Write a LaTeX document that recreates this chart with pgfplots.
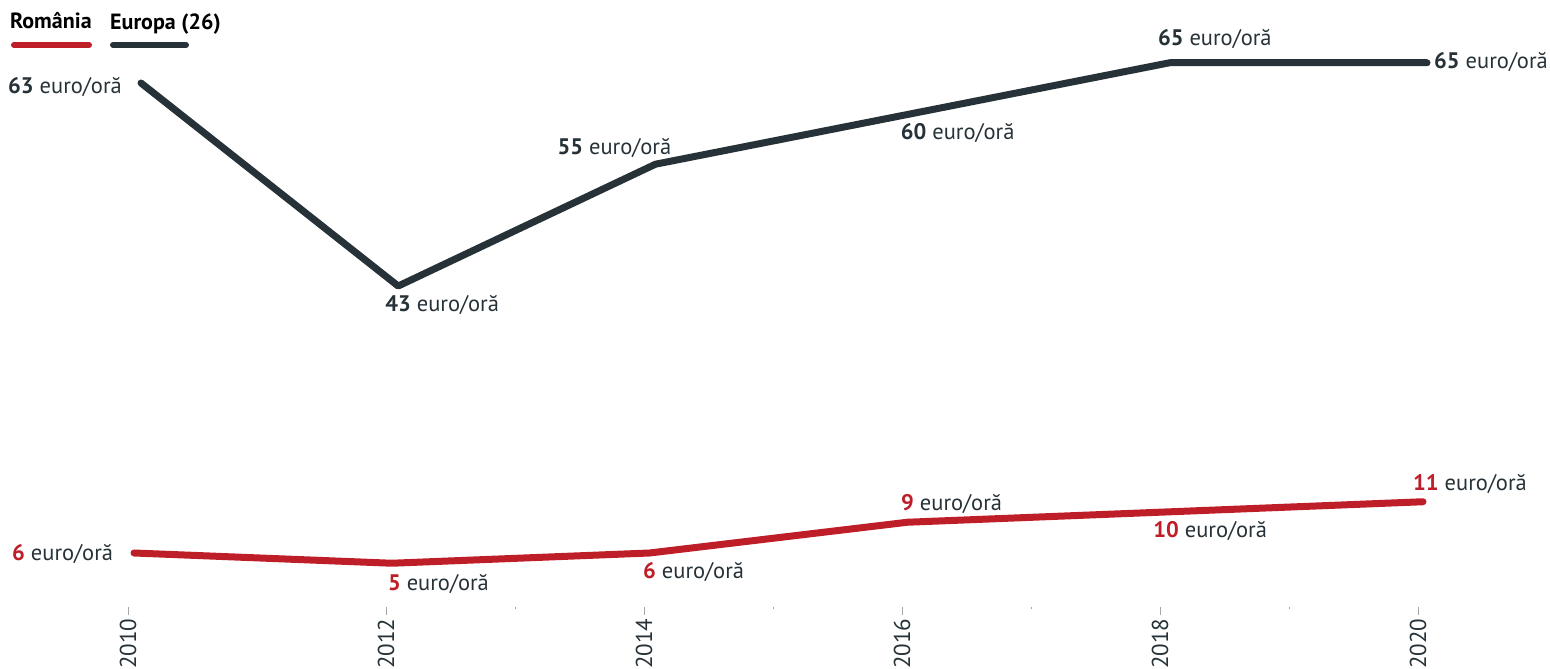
\documentclass[border=0pt]{standalone}
\usepackage{fontspec}
\setmainfont{PT Sans}
\usepackage{pgfplots}
\pgfplotsset{compat=1.18}
\definecolor{rored}{RGB}{190,30,40}
\definecolor{eudark}{RGB}{38,50,56}
\newcommand{\lbl}[2]{\textcolor{#1}{\textbf{#2}} euro/oră}
\tikzset{vl/.style={anchor=base west,inner sep=0pt,font=\fontsize{22.5}{22.5}\selectfont,text=eudark}}
\begin{document}
\begin{tikzpicture}
\pgfplotsset{
  base/.style={at={(0pt,0pt)},anchor=south west,scale only axis,width=1550pt,height=669pt,
    axis line style={draw=none},xtick=\empty,ytick=\empty,clip=false}
}
% ticks
\begin{axis}[scale only axis, at={(0pt,62pt)}, anchor=south west, width=1550pt, height=20pt,
  xmin=2009.0078, xmax=2021.0233, ymin=0, ymax=1, ytick=\empty,
  xtick={2010,2012,2014,2016,2018,2020}, minor xtick={2013,2015,2017,2019},
  axis line style={draw=none}, tick align=outside, xtick pos=lower, xticklabel pos=lower,
  major tick length=8pt, minor tick length=2pt,
  every tick/.style={black!35, line width=0.8pt},
  xticklabel style={rotate=90, anchor=east, font=\fontsize{23}{23}\selectfont, text=eudark},
  /pgf/number format/1000 sep={}, /pgf/number format/assume math mode=true]
\addplot[draw=none] coordinates {(2010,0)};
\end{axis}
% Romania
\begin{axis}[base, xmin=2008.9604, xmax=2020.9853, ymin=-5.317, ymax=59.95]
\addplot[rored, line width=7pt, line cap=round, line join=round] coordinates {(2010,6)(2012,5)(2014,6)(2016,9)(2018,10)(2020,11)};
\node[vl] at (axis cs:2010,6) [xshift=-122pt, yshift=-8pt] {\lbl{rored}{6}};
\node[vl] at (axis cs:2012,5) [xshift=-4pt, yshift=-27.5pt] {\lbl{rored}{5}};
\node[vl] at (axis cs:2014,6) [xshift=-6.6pt, yshift=-26pt] {\lbl{rored}{6}};
\node[vl] at (axis cs:2016,9) [xshift=-6.4pt, yshift=12pt] {\lbl{rored}{9}};
\node[vl] at (axis cs:2018,10) [xshift=-12pt, yshift=-26pt] {\lbl{rored}{10}};
\node[vl] at (axis cs:2020,11) [xshift=-10pt, yshift=11pt] {\lbl{rored}{11}};
\end{axis}
% Europa
\begin{axis}[base, xmin=2008.9036, xmax=2020.9565, ymin=5.271, ymax=71.18]
\addplot[eudark, line width=7pt, line cap=round, line join=round] coordinates {(2010,63)(2012,43)(2014,55)(2016,60)(2018,65)(2020,65)};
\node[vl] at (axis cs:2010,63) [xshift=-133pt, yshift=-10pt] {\lbl{eudark}{63}};
\node[vl] at (axis cs:2012,43) [xshift=-13pt, yshift=-25pt] {\lbl{eudark}{43}};
\node[vl] at (axis cs:2014,55) [xshift=-98pt, yshift=10pt] {\lbl{eudark}{55}};
\node[vl] at (axis cs:2016,60) [xshift=-12pt, yshift=-26.5pt] {\lbl{eudark}{60}};
\node[vl] at (axis cs:2018,65) [xshift=-12pt, yshift=17.7pt] {\lbl{eudark}{65}};
\node[vl] at (axis cs:2020,65) [xshift=7pt, yshift=-5.3pt] {\lbl{eudark}{65}};
\end{axis}
% legend
\draw[rored, line width=6pt, line cap=round] (14pt,624pt) -- (89pt,624pt);
\draw[eudark, line width=6pt, line cap=round] (113pt,624pt) -- (186pt,624pt);
\node[anchor=base west, inner sep=0pt, font=\fontsize{22}{22}\selectfont\bfseries] at (10pt,640pt) {România};
\node[anchor=base west, inner sep=0pt, font=\fontsize{22}{22}\selectfont\bfseries] at (110pt,639pt) {Europa (26)};
\pgfresetboundingbox
\path[use as bounding box] (0pt,0pt) rectangle (1550pt,669pt);
\end{tikzpicture}
\end{document}
